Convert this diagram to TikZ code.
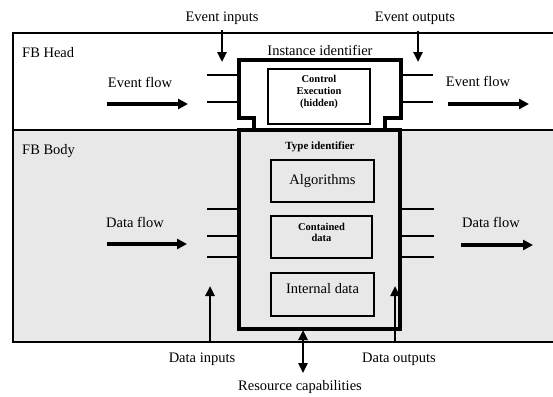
\documentclass[tikz,border=0pt]{standalone}
\usepackage{fontspec}
\setmainfont{Liberation Serif}
\usetikzlibrary{arrows.meta}
\begin{document}
\begin{tikzpicture}[x=1pt,y=-1pt,
  lbl/.style={inner sep=0pt, font=\fontsize{14.5}{15}\selectfont},
  smallbold/.style={inner sep=0pt, align=center, font=\fontsize{10.5}{14}\selectfont\bfseries},
  innerbox/.style={draw, line width=1.1pt, inner sep=0pt},
  stub/.style={line width=2.8pt},
  bigarrow/.style={line width=3.2pt, -{Triangle[length=10pt,width=10pt]}},
  smallarrow/.style={line width=2.4pt, -{Triangle[length=10pt,width=9pt]}},
  block/.style={line width=3.2pt, line join=miter}
]
\useasboundingbox (0,0) rectangle (553,396);
\fill[white] (0,0) rectangle (553,396);
% regions
\fill[gray!18] (13,130) rectangle (553,342);
\draw[line width=1.6pt] (13,33) rectangle (556,342);
\draw[line width=1.6pt] (13,130) -- (556,130);
% central block
\fill[white] (239,60) rectangle (401,118);
\fill[white] (254,118) rectangle (385,130);
\draw[block] (254,130) -- (254,118) -- (239,118) -- (239,60) -- (401,60) -- (401,118) -- (385,118) -- (385,130);
\draw[block] (239,130) rectangle (400,329);
% inner boxes
\node[innerbox, fill=white, minimum width=102pt, minimum height=55pt] (ctrl) at (319,96.5) {};
\node[smallbold] (ctrltxt) at (319,92) {Control\\[-2pt]Execution\\[-2pt](hidden)};
\node[innerbox, minimum width=103pt, minimum height=42pt] (alg) at (322.5,181) {};
\node[lbl] (algtxt) at (alg.center) {Algorithms};
\node[innerbox, minimum width=101pt, minimum height=42pt] (cont) at (321.5,237) {};
\node[smallbold] (conttxt) at (321.5,232) {Contained\\[-3pt]data};
\node[innerbox, minimum width=103pt, minimum height=43pt] (intd) at (322.5,294.5) {};
\node[lbl] (inttxt) at (322.5,289) {Internal data};
\node[smallbold, font=\fontsize{11}{12}\selectfont\bfseries] (typeid) at (320,147) {Type identifier};
\node[lbl] (instid) at (320,50) {Instance identifier};
% stubs
\foreach \y [count=\i] in {75,102} {
  \coordinate (eil\i) at (207,\y); \coordinate (eib\i) at (239,\y);
  \coordinate (eor\i) at (433,\y); \coordinate (eob\i) at (401,\y);
  \draw[stub] (eil\i) -- (eib\i);
  \draw[stub] (eob\i) -- (eor\i);
}
\foreach \y [count=\i] in {209,236,257} {
  \coordinate (dil\i) at (207,\y); \coordinate (dib\i) at (239,\y);
  \coordinate (dor\i) at (434,\y); \coordinate (dob\i) at (400,\y);
  \draw[stub] (dil\i) -- (dib\i);
  \draw[stub] (dob\i) -- (dor\i);
}
% labels
\node[lbl, anchor=west] (fbhead) at (22,53) {FB Head};
\node[lbl, anchor=west] (fbbody) at (22,151) {FB Body};
\node[lbl] (evin) at (222,18) {Event inputs};
\node[lbl] (evout) at (415,18) {Event outputs};
\node[lbl] (efl) at (140,82) {Event flow};
\node[lbl] (efr) at (478,81) {Event flow};
\node[lbl] (dfl) at (135,222) {Data flow};
\node[lbl] (dfr) at (491,222) {Data flow};
\node[lbl] (din) at (202,359) {Data inputs};
\node[lbl] (dout) at (399,359) {Data outputs};
\node[lbl] (res) at (300,387) {Resource capabilities};
% arrows
\coordinate (a1s) at (222,30); \coordinate (a1e) at (222,62);
\draw[smallarrow] (a1s) -- (a1e);
\coordinate (a2s) at (418,31); \coordinate (a2e) at (418,62);
\draw[smallarrow] (a2s) -- (a2e);
\coordinate (e1s) at (107,104); \coordinate (e1e) at (188,104);
\draw[bigarrow] (e1s) -- (e1e);
\coordinate (e2s) at (448,104); \coordinate (e2e) at (529,104);
\draw[bigarrow] (e2s) -- (e2e);
\coordinate (d1s) at (107,244); \coordinate (d1e) at (187,244);
\draw[bigarrow] (d1s) -- (d1e);
\coordinate (d2s) at (461,245); \coordinate (d2e) at (533,245);
\draw[bigarrow] (d2s) -- (d2e);
\coordinate (i1s) at (210,342); \coordinate (i1e) at (210,286);
\draw[smallarrow] (i1s) -- (i1e);
\coordinate (o1s) at (395,342); \coordinate (o1e) at (395,286);
\draw[smallarrow] (o1s) -- (o1e);
\coordinate (r1s) at (303,330); \coordinate (r1e) at (303,373);
\draw[smallarrow, {Triangle[length=10pt,width=9pt]}-{Triangle[length=10pt,width=9pt]}] (r1s) -- (r1e);
\end{tikzpicture}
\end{document}
